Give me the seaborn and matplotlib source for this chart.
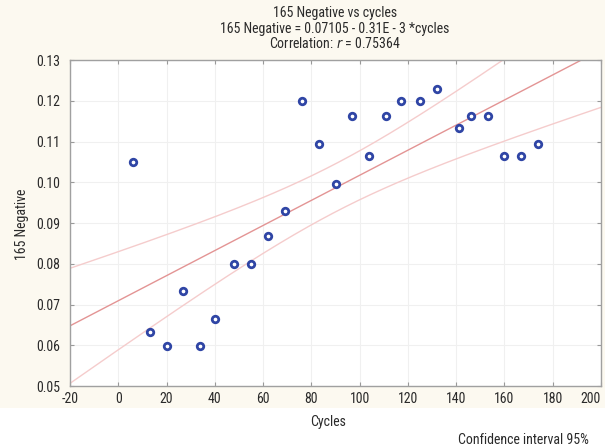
import numpy as np
import pandas as pd
import matplotlib
matplotlib.use("Agg")
import matplotlib.pyplot as plt
from matplotlib.patches import Rectangle
import seaborn as sns

cycles = [6, 13, 20, 27, 34, 40, 48, 55, 62, 69, 76, 83, 90, 97, 104,
          111, 117, 125, 132, 141, 146, 153, 160, 167, 174]
negative = [0.105, 0.0632, 0.0597, 0.0732, 0.0597, 0.0664, 0.0799, 0.0799,
            0.0867, 0.0929, 0.1200, 0.1095, 0.0996, 0.1163, 0.1064,
            0.1163, 0.1200, 0.1200, 0.1230, 0.1132, 0.1163, 0.1163,
            0.1064, 0.1064, 0.1095]
x_ticks = [-20, 0, 20, 40, 60, 80, 100, 120, 140, 160, 180, 200]
y_ticks = [0.05, 0.06, 0.07, 0.08, 0.09, 0.10, 0.11, 0.12, 0.13]
title_lines = ["165 Negative vs cycles",
               "165 Negative = 0.07105 - 0.31E - 3 *cycles",
               "Correlation: $r$ = 0.75364"]

df = pd.DataFrame({"cycles": cycles, "neg": negative})

sns.set_theme(style="white")
plt.rcParams['font.family'] = ['Roboto Condensed', 'DejaVu Sans']
plt.rcParams['font.stretch'] = 'condensed'
plt.rcParams['mathtext.fontset'] = 'custom'
plt.rcParams['mathtext.it'] = 'DejaVu Sans:italic'
plt.rcParams['mathtext.rm'] = 'DejaVu Sans'

TXT = "#2a2a2a"
FS = 10

fig = plt.figure(figsize=(6.05, 4.48), dpi=100)
fig.patch.set_facecolor("white")
fig.patches.append(Rectangle((0, 1 - 408 / 448), 1, 408 / 448, transform=fig.transFigure,
                             facecolor="#fcf9f0", edgecolor="none", zorder=-10))
ax = fig.add_axes([70 / 605, 1 - 386 / 448, 531 / 605, 326 / 448])
ax.set_facecolor("white")

# regression and analytic 95% CI
x = np.asarray(cycles, float)
y = np.asarray(negative, float)
n = len(x)
b, a = np.polyfit(x, y, 1)
resid = y - (a + b * x)
s = np.sqrt(np.sum(resid ** 2) / (n - 2))
xbar = x.mean()
sxx = np.sum((x - xbar) ** 2)
t = 2.069
xs = np.linspace(-20, 200, 300)
yfit = a + b * xs
hw = t * s * np.sqrt(1 / n + (xs - xbar) ** 2 / sxx)

sns.lineplot(x=xs, y=yfit, ax=ax, color="#e39494", lw=1.0, zorder=2)
sns.lineplot(x=xs, y=yfit + hw, ax=ax, color="#f5cccc", lw=1.0, zorder=2)
sns.lineplot(x=xs, y=yfit - hw, ax=ax, color="#f5cccc", lw=1.0, zorder=2)

sns.scatterplot(data=df, x="cycles", y="neg", ax=ax, marker="o", s=22,
                facecolor="white", edgecolor="#2f45a5", linewidth=2.0, zorder=3)

ax.set_xlim(-20, 200)
ax.set_ylim(0.05, 0.13)
ax.set_xticks(x_ticks)
ax.set_yticks(y_ticks)
ax.set_xticklabels([str(v) for v in x_ticks])
ax.set_yticklabels([f"{v:.2f}" for v in y_ticks])
ax.grid(True, color="#f0f0f0", lw=0.8)
ax.tick_params(axis="both", which="both", direction="in", length=3, width=0.8,
               color="#999999", labelsize=FS, labelcolor=TXT,
               top=True, right=True, bottom=True, left=True)
ax.tick_params(axis="y", pad=7)
ax.tick_params(axis="x", pad=4)
xl = ax.get_xticklabels()
xl[-1].set_horizontalalignment("right")
xl[-1].set_x(199)
for sp in ax.spines.values():
    sp.set_color("#a0a0a0")
    sp.set_linewidth(1.0)

ax.set_xlabel("")
ax.set_ylabel("")
fig.text(22 / 605, 1 - 224 / 448, "165 Negative", rotation=90, ha="center", va="center",
         fontsize=FS, color=TXT)
fig.text(328 / 605, 1 - 422 / 448, "Cycles", ha="center", va="center",
         fontsize=FS, color=TXT)
fig.text(589 / 605, 1 - 440 / 448, "Confidence interval 95%", ha="right", va="center",
         fontsize=FS, color=TXT)
for i, line in enumerate(title_lines):
    fig.text(335 / 605, 1 - (13 + 15.5 * i) / 448, line, ha="center", va="center",
             fontsize=FS, color=TXT)

fig.savefig("out.png", dpi=100)
